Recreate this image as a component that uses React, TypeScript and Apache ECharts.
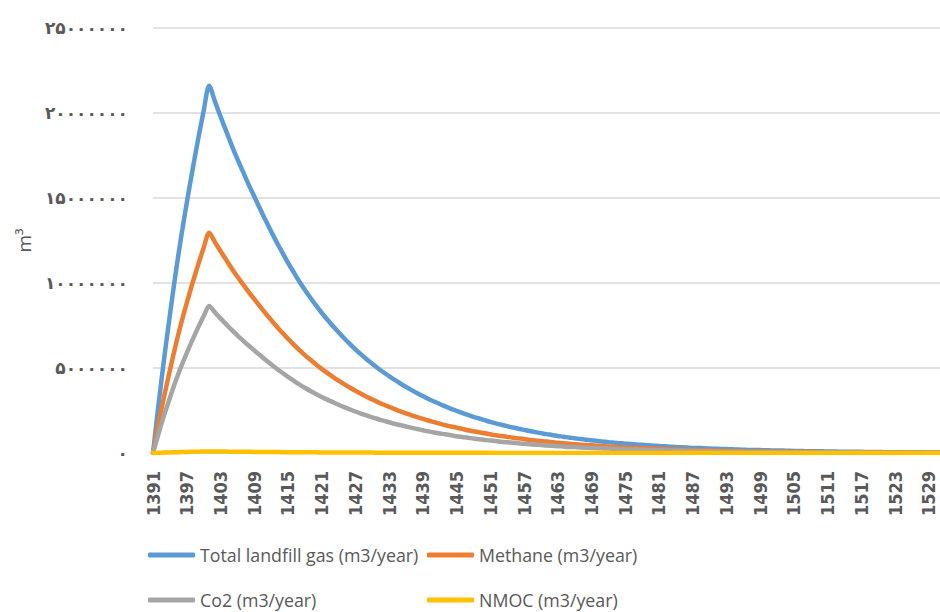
import React, { useEffect, useRef } from "react";
import * as echarts from "echarts";

// Years 1391 .. 1531 (x categories)
const years: string[] = Array.from({ length: 141 }, (_, i) => String(1391 + i));

// Values in million m3 per year
const totalGas = [
  0, 2.9, 5.6, 8.1, 10.5, 12.7, 14.7, 16.6, 18.4, 20.1, 21.6,
  20.7, 19.8, 18.95, 18.1, 17.3, 16.55, 15.8, 15.1, 14.4, 13.7,
  13.05, 12.4, 11.8, 11.2, 10.65, 10.1, 9.6, 9.13, 8.68, 8.25,
  7.85, 7.47, 7.1, 6.75, 6.42, 6.1, 5.8, 5.52, 5.25, 4.99,
  4.75, 4.52, 4.3, 4.09, 3.89, 3.7, 3.52, 3.35, 3.18, 3.03,
  2.88, 2.74, 2.6, 2.48, 2.36, 2.24, 2.13, 2.03, 1.93, 1.83,
  1.74, 1.66, 1.58, 1.5, 1.43, 1.36, 1.29, 1.23, 1.17, 1.11,
  1.06, 1.0, 0.96, 0.91, 0.87, 0.82, 0.78, 0.75, 0.71, 0.68,
  0.64, 0.61, 0.58, 0.55, 0.53, 0.5, 0.48, 0.45, 0.43, 0.41,
  0.39, 0.37, 0.35, 0.34, 0.32, 0.3, 0.29, 0.28, 0.26, 0.25,
  0.24, 0.23, 0.22, 0.2, 0.19, 0.18, 0.18, 0.17, 0.16, 0.15,
  0.14, 0.14, 0.13, 0.12, 0.12, 0.11, 0.11, 0.1, 0.1, 0.09,
  0.09, 0.08, 0.08, 0.07, 0.07, 0.07, 0.06, 0.06, 0.06, 0.05,
  0.05, 0.05, 0.04, 0.04, 0.04, 0.04, 0.04, 0.03, 0.03, 0.03,
];

const methane = [
  0, 1.74, 3.36, 4.86, 6.3, 7.62, 8.82, 9.96, 11.04, 12.06, 12.96,
  12.42, 11.88, 11.37, 10.86, 10.38, 9.93, 9.48, 9.06, 8.64, 8.22,
  7.83, 7.44, 7.08, 6.72, 6.39, 6.06, 5.76, 5.48, 5.21, 4.95,
  4.71, 4.48, 4.26, 4.05, 3.85, 3.66, 3.48, 3.31, 3.15, 2.99,
  2.85, 2.71, 2.58, 2.45, 2.33, 2.22, 2.11, 2.01, 1.91, 1.82,
  1.73, 1.64, 1.56, 1.49, 1.42, 1.34, 1.28, 1.22, 1.16, 1.1,
  1.04, 1.0, 0.95, 0.9, 0.86, 0.82, 0.77, 0.74, 0.7, 0.67,
  0.64, 0.6, 0.58, 0.55, 0.52, 0.49, 0.47, 0.45, 0.43, 0.41,
  0.38, 0.37, 0.35, 0.33, 0.32, 0.3, 0.29, 0.27, 0.26, 0.25,
  0.23, 0.22, 0.21, 0.2, 0.19, 0.18, 0.17, 0.17, 0.16, 0.15,
  0.14, 0.14, 0.13, 0.12, 0.11, 0.11, 0.11, 0.1, 0.1, 0.09,
  0.08, 0.08, 0.08, 0.07, 0.07, 0.07, 0.07, 0.06, 0.06, 0.05,
  0.05, 0.05, 0.05, 0.04, 0.04, 0.04, 0.04, 0.04, 0.04, 0.03,
  0.03, 0.03, 0.02, 0.02, 0.02, 0.02, 0.02, 0.02, 0.02, 0.02,
];

const co2 = [
  0, 1.16, 2.24, 3.24, 4.2, 5.08, 5.88, 6.64, 7.36, 8.04, 8.64,
  8.28, 7.92, 7.58, 7.24, 6.92, 6.62, 6.32, 6.04, 5.76, 5.48,
  5.22, 4.96, 4.72, 4.48, 4.26, 4.04, 3.84, 3.65, 3.47, 3.3,
  3.14, 2.99, 2.84, 2.7, 2.57, 2.44, 2.32, 2.21, 2.1, 2.0,
  1.9, 1.81, 1.72, 1.64, 1.56, 1.48, 1.41, 1.34, 1.27, 1.21,
  1.15, 1.1, 1.04, 0.99, 0.94, 0.9, 0.85, 0.81, 0.77, 0.73,
  0.7, 0.66, 0.63, 0.6, 0.57, 0.54, 0.52, 0.49, 0.47, 0.44,
  0.42, 0.4, 0.38, 0.36, 0.35, 0.33, 0.31, 0.3, 0.28, 0.27,
  0.26, 0.24, 0.23, 0.22, 0.21, 0.2, 0.19, 0.18, 0.17, 0.16,
  0.16, 0.15, 0.14, 0.14, 0.13, 0.12, 0.12, 0.11, 0.1, 0.1,
  0.1, 0.09, 0.09, 0.08, 0.08, 0.07, 0.07, 0.07, 0.06, 0.06,
  0.06, 0.06, 0.05, 0.05, 0.05, 0.04, 0.04, 0.04, 0.04, 0.04,
  0.04, 0.03, 0.03, 0.03, 0.03, 0.03, 0.02, 0.02, 0.02, 0.02,
  0.02, 0.02, 0.02, 0.02, 0.02, 0.02, 0.02, 0.01, 0.01, 0.01,
];

const nmoc = [
  0, 0.012, 0.024, 0.035, 0.045, 0.055, 0.063, 0.071, 0.079, 0.086, 0.093,
  0.089, 0.085, 0.081, 0.078, 0.074, 0.071, 0.068, 0.065, 0.062, 0.059,
  0.056, 0.053, 0.051, 0.048, 0.046, 0.043, 0.041, 0.039, 0.037, 0.035,
  0.034, 0.032, 0.031, 0.029, 0.028, 0.026, 0.025, 0.024, 0.023, 0.021,
  0.02, 0.019, 0.018, 0.018, 0.017, 0.016, 0.015, 0.014, 0.014, 0.013,
  0.012, 0.012, 0.011, 0.011, 0.01, 0.01, 0.009, 0.009, 0.008, 0.008,
  0.007, 0.007, 0.007, 0.006, 0.006, 0.006, 0.006, 0.005, 0.005, 0.005,
  0.005, 0.004, 0.004, 0.004, 0.004, 0.004, 0.003, 0.003, 0.003, 0.003,
  0.003, 0.003, 0.002, 0.002, 0.002, 0.002, 0.002, 0.002, 0.002, 0.002,
  0.002, 0.002, 0.002, 0.001, 0.001, 0.001, 0.001, 0.001, 0.001, 0.001,
  0.001, 0.001, 0.001, 0.001, 0.001, 0.001, 0.001, 0.001, 0.001, 0.001,
  0.001, 0.001, 0.001, 0.001, 0.001, 0.001, 0.001, 0.001, 0.001, 0.001,
  0, 0, 0, 0, 0, 0, 0, 0, 0, 0,
  0, 0, 0, 0, 0, 0, 0, 0, 0, 0,
];

const seriesNames = [
  "Total landfill gas (m3/year)",
  "Methane (m3/year)",
  "Co2 (m3/year)",
  "NMOC (m3/year)",
];
const seriesColors = ["#5b9bd5", "#ed7d31", "#a5a5a5", "#ffc000"];

// Y tick labels (Persian digits), for 0, 5, 10, 15, 20, 25 million
const yTickLabels = ["۰", "۵۰۰۰۰۰۰", "۱۰۰۰۰۰۰۰", "۱۵۰۰۰۰۰۰", "۲۰۰۰۰۰۰۰", "۲۵۰۰۰۰۰۰"];
const yAxisName = "m³";

export default function App() {
  const ref = useRef<HTMLDivElement>(null);

  useEffect(() => {
    if (!ref.current) return;
    const chart = echarts.init(ref.current, undefined, { renderer: "svg" });
    const dataSets = [totalGas, methane, co2, nmoc];
    const legendPos = [
      { left: 148, top: 546 },
      { left: 427, top: 546 },
      { left: 148, top: 591 },
      { left: 427, top: 591 },
    ];
    chart.setOption({
      animation: false,
      backgroundColor: "#ffffff",
      grid: { left: 153, top: 28, right: -3, bottom: 159, containLabel: false },
      legend: seriesNames.map((n, i) => ({
        data: [{ name: n, icon: "roundRect" }],
        left: legendPos[i].left,
        top: legendPos[i].top,
        padding: 0,
        itemWidth: 47,
        itemHeight: 5,
        textStyle: {
          color: "#595959",
          fontSize: 17.8,
          fontFamily: "'Open Sans', sans-serif",
        },
        selectedMode: false,
      })),
      xAxis: {
        type: "category",
        data: years,
        boundaryGap: false,
        axisTick: { show: false },
        axisLine: { lineStyle: { color: "#d9d9d9", width: 1.5 } },
        axisLabel: {
          interval: 5,
          rotate: 90,
          margin: 18,
          color: "#595959",
          fontWeight: "bold",
          fontSize: 18,
          fontFamily: "'Liberation Sans Narrow', 'DejaVu Sans Condensed', sans-serif",
        },
      },
      yAxis: {
        type: "value",
        min: 0,
        max: 25,
        interval: 5,
        name: yAxisName,
        nameLocation: "middle",
        nameRotate: 90,
        nameGap: 120,
        nameTextStyle: { color: "#595959", fontSize: 19, fontFamily: "'Open Sans', sans-serif" },
        axisLine: { show: false },
        axisTick: { show: false },
        splitLine: { lineStyle: { color: "#d9d9d9", width: 1.5 } },
        axisLabel: {
          margin: 25,
          color: "#595959",
          fontWeight: "bold",
          fontSize: 17,
          fontFamily: "'DejaVu Sans', sans-serif",
          formatter: (v: number) => yTickLabels[Math.round(v / 5)] ?? "",
        },
      },
      series: seriesNames.map((n, i) => ({
        name: n,
        type: "line",
        data: dataSets[i],
        showSymbol: false,
        symbol: "none",
        smooth: 0.3,
        lineStyle: { color: seriesColors[i], width: 4.5, cap: "round", join: "round" },
        itemStyle: { color: seriesColors[i] },
      })),
    });
    return () => chart.dispose();
  }, []);

  return (
    <div
      ref={ref}
      style={{ position: "fixed", left: 0, top: 0, width: 940, height: 612 }}
    />
  );
}
